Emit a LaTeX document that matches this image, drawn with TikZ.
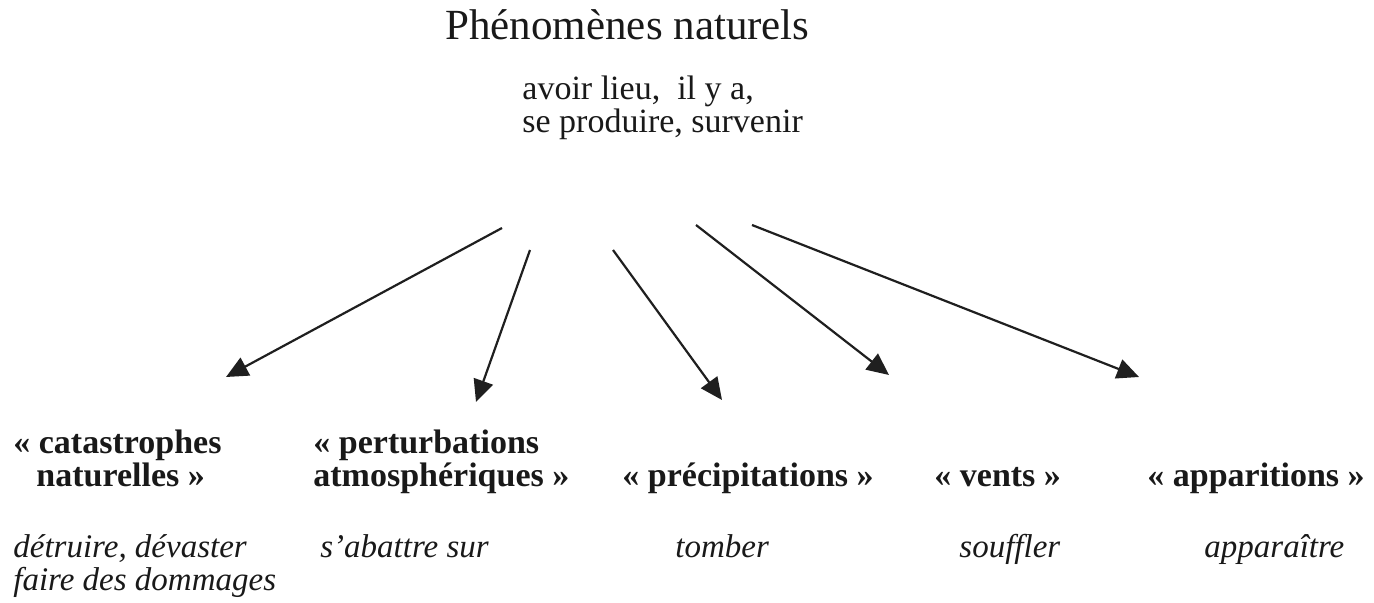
\documentclass[tikz,border=0pt]{standalone}
\usepackage{fontspec}
\setmainfont{Liberation Serif}
\usetikzlibrary{arrows.meta}
\begin{document}
\begin{tikzpicture}[x=0.5pt,y=-0.5pt,
  txt/.style={anchor=base west,inner sep=0pt,text=black!90},
  ttl/.style={txt,font=\fontsize{21.5}{24}\selectfont},
  subt/.style={txt,font=\fontsize{17}{19}\selectfont},
  lbl/.style={txt,font=\fontsize{17}{18}\selectfont\bfseries},
  verb/.style={txt,font=\fontsize{16.5}{18}\selectfont\itshape},
  arr/.style={draw=black!88,line width=1.1pt,-{Triangle[length=11pt,width=10pt]}}]
\useasboundingbox (0,0) rectangle (1374,603);
% title
\node[ttl] (title) at (445,40) {Phénomènes naturels};
\node[subt] (sub1) at (522,100) {avoir lieu,\ \ il y a,};
\node[subt] (sub2) at (522,133) {se produire, survenir};
% categories
\node[lbl] (c1a) at (13,453) {«~catastrophes};
\node[lbl] (c1b) at (36,487) {naturelles~»};
\node[lbl] (c2a) at (313,453) {«~perturbations};
\node[lbl] (c2b) at (313,487) {atmosphériques~»};
\node[lbl] (c3) at (622,487) {«~précipitations~»};
\node[lbl] (c4) at (934,487) {«~vents~»};
\node[lbl] (c5) at (1147,487) {«~apparitions~»};
% verbs
\node[verb] (v1a) at (13,557) {détruire, dévaster};
\node[verb] (v1b) at (13,590) {faire des dommages};
\node[verb] (v2) at (320,557) {s’abattre sur};
\node[verb] (v3) at (675,557) {tomber};
\node[verb] (v4) at (959,557) {souffler};
\node[verb] (v5) at (1204,557) {apparaître};
% arrow ends
\coordinate (s1) at (502,228); \coordinate (t1) at (226,377);
\coordinate (s2) at (530,250); \coordinate (t2) at (476,402);
\coordinate (s3) at (613,250); \coordinate (t3) at (722,400);
\coordinate (s4) at (696,225); \coordinate (t4) at (889,375);
\coordinate (s5) at (752,225); \coordinate (t5) at (1139,377);
\draw[arr] (s1) -- (t1);
\draw[arr] (s2) -- (t2);
\draw[arr] (s3) -- (t3);
\draw[arr] (s4) -- (t4);
\draw[arr] (s5) -- (t5);
\end{tikzpicture}
\end{document}
